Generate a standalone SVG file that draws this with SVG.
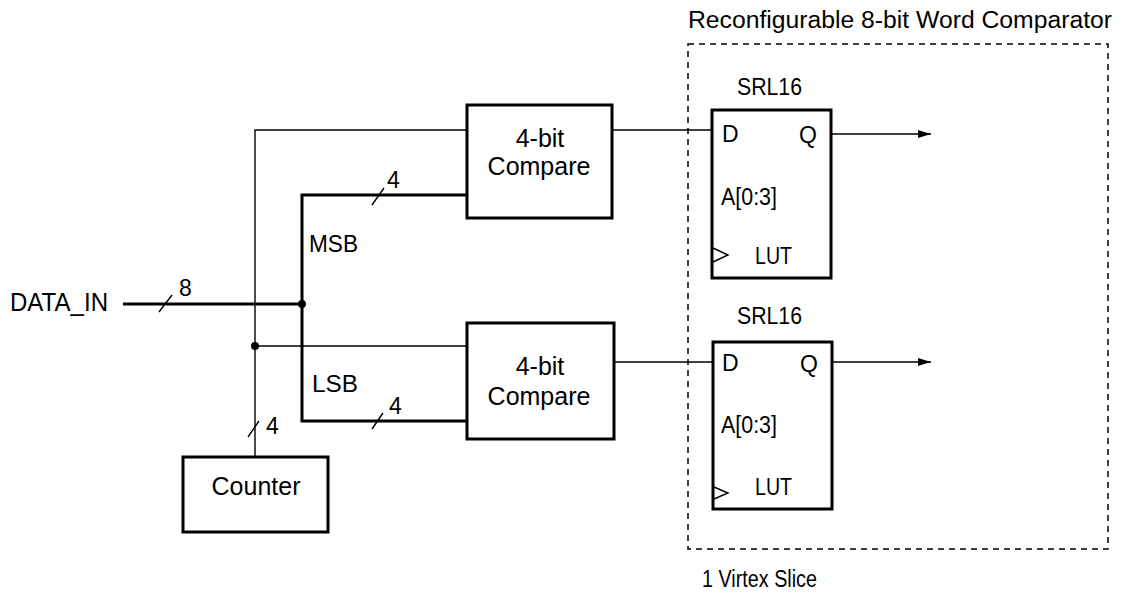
<svg xmlns="http://www.w3.org/2000/svg" width="1128" height="593" viewBox="0 0 1128 593">
<defs>
<style>
text{font-family:"Liberation Sans",Arial,sans-serif;font-size:23px;fill:#000}
.big{font-size:25px}
.num{font-size:23px}
.box{fill:#fff;stroke:#000;stroke-width:3}
.thin{fill:none;stroke:#000;stroke-width:1.4}
.bus{fill:none;stroke:#000;stroke-width:3}
.dash{fill:none;stroke:#000;stroke-width:1.5;stroke-dasharray:6 5}
.mid{text-anchor:middle}
</style>
<marker id="arr" markerWidth="13" markerHeight="8" refX="13" refY="4" orient="auto" markerUnits="userSpaceOnUse">
<path d="M0,0 L13,4 L0,8 Z" fill="#000"/>
</marker>
</defs>
<rect width="1128" height="593" fill="#fff"/>

<g id="slice">
<rect class="dash" x="688" y="44" width="420" height="505"/>
<text x="688" y="28" font-size="24" textLength="424" lengthAdjust="spacingAndGlyphs">Reconfigurable 8-bit Word Comparator</text>
<text x="702" y="587" textLength="115" lengthAdjust="spacingAndGlyphs">1 Virtex Slice</text>
</g>

<g id="connectors">
<line class="bus" x1="123" y1="304" x2="302" y2="304"/>
<line class="thin" x1="159" y1="312" x2="172" y2="295"/>
<polyline class="bus" points="467,195 302,195 302,421 467,421"/>
<line class="thin" x1="372" y1="205" x2="384" y2="188"/>
<line class="thin" x1="372" y1="429" x2="383" y2="413"/>
<polyline class="thin" points="467,130 255,130 255,457"/>
<line class="thin" x1="255" y1="346" x2="467" y2="346"/>
<line class="thin" x1="248" y1="437" x2="259" y2="421"/>
<circle cx="302" cy="304" r="4" fill="#000"/>
<circle cx="255" cy="346" r="4" fill="#000"/>
<line class="thin" x1="612" y1="130" x2="712" y2="130"/>
<line class="thin" x1="614" y1="362" x2="713" y2="362"/>
<line class="thin" x1="831" y1="134" x2="931" y2="134" marker-end="url(#arr)"/>
<line class="thin" x1="832" y1="362" x2="931" y2="362" marker-end="url(#arr)"/>
</g>

<g id="labels">
<text class="big" x="10" y="311" textLength="98" lengthAdjust="spacingAndGlyphs">DATA_IN</text>
<text class="num" x="179" y="296">8</text>
<text class="num" x="387" y="188">4</text>
<text class="num" x="389" y="414">4</text>
<text class="num" x="266" y="434">4</text>
<text x="309" y="252" textLength="49" lengthAdjust="spacingAndGlyphs">MSB</text>
<text x="312" y="392" font-size="24" textLength="46" lengthAdjust="spacingAndGlyphs">LSB</text>
</g>

<g id="compare1">
<rect class="box" x="467" y="105" width="145" height="113"/>
<text class="big mid" x="540" y="147">4-bit</text>
<text class="big mid" x="539" y="175">Compare</text>
</g>

<g id="compare2">
<rect class="box" x="467" y="323" width="147" height="116"/>
<text class="big mid" x="540" y="375">4-bit</text>
<text class="big mid" x="539" y="405">Compare</text>
</g>

<g id="counter">
<rect class="box" x="183" y="457" width="145" height="75"/>
<text class="big mid" x="256" y="495">Counter</text>
</g>

<g id="srl1">
<text x="737" y="95" textLength="65" lengthAdjust="spacingAndGlyphs">SRL16</text>
<rect class="box" x="712" y="110" width="119" height="168"/>
<text x="722" y="142">D</text>
<text x="799" y="143">Q</text>
<text x="721" y="205" textLength="56" lengthAdjust="spacingAndGlyphs">A[0:3]</text>
<text x="755" y="264" textLength="37" lengthAdjust="spacingAndGlyphs">LUT</text>
<polyline class="thin" points="713,248 728,255 713,262"/>
</g>

<g id="srl2">
<text x="737" y="324" textLength="65" lengthAdjust="spacingAndGlyphs">SRL16</text>
<rect class="box" x="713" y="342" width="119" height="167"/>
<text x="722" y="371">D</text>
<text x="800" y="372">Q</text>
<text x="721" y="433" textLength="56" lengthAdjust="spacingAndGlyphs">A[0:3]</text>
<text x="755" y="495" textLength="37" lengthAdjust="spacingAndGlyphs">LUT</text>
<polyline class="thin" points="714,487 728,493 714,499"/>
</g>
</svg>
